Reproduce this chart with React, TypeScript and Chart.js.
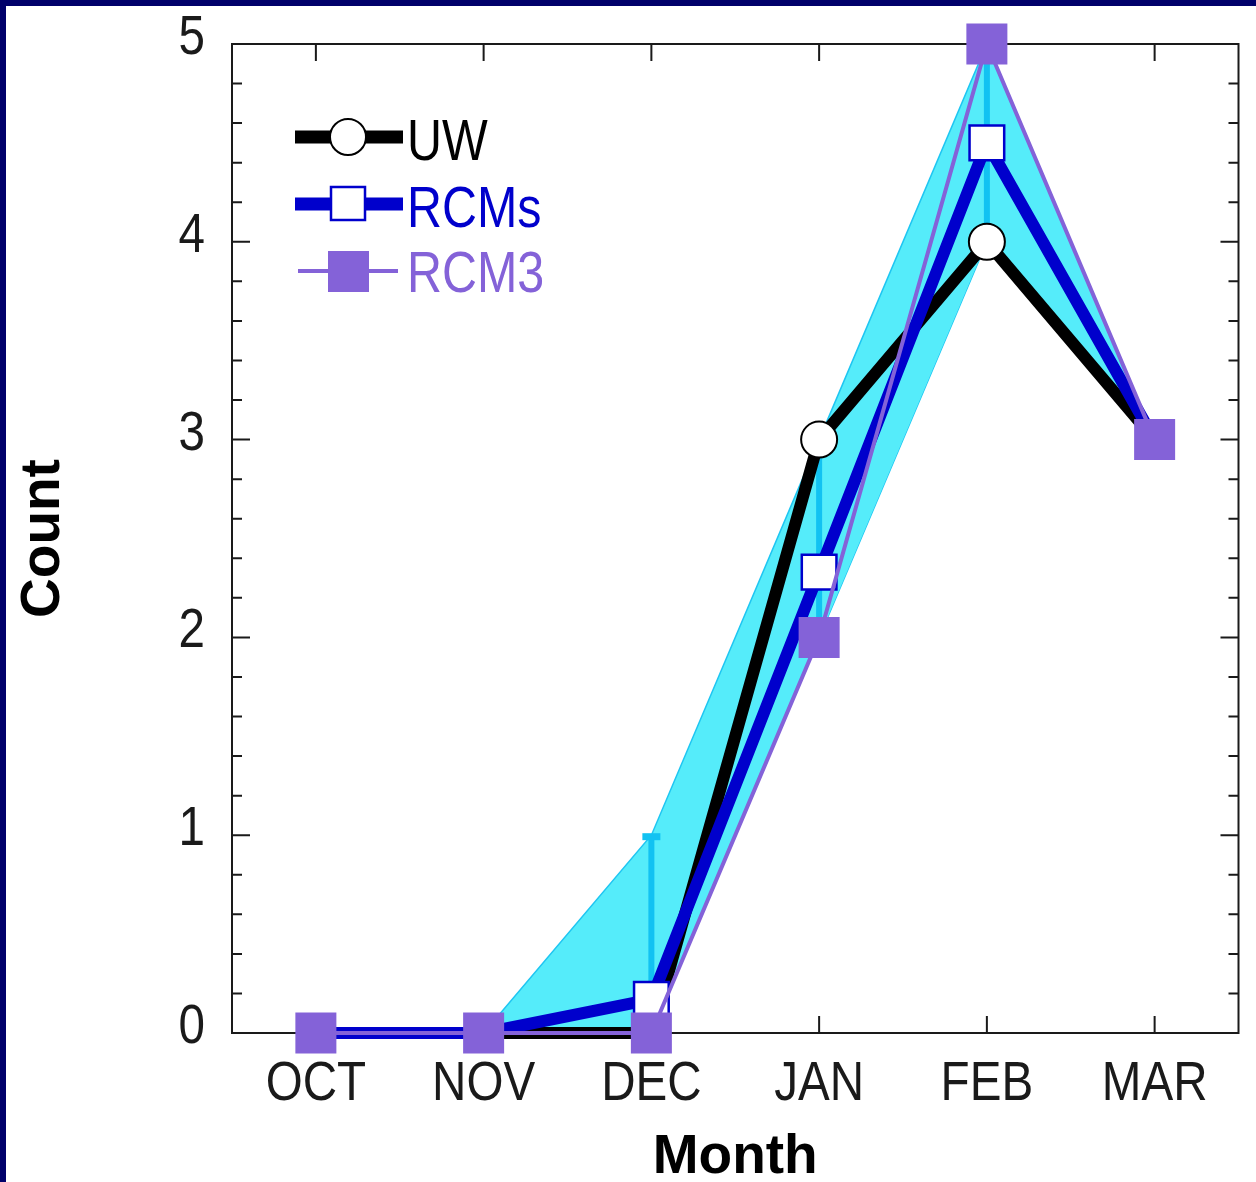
import { useEffect, useRef } from "react";
import { Chart, registerables } from "chart.js";

Chart.register(...registerables);

const months = ["OCT", "NOV", "DEC", "JAN", "FEB", "MAR"];
const uw = [0, 0, 0, 3, 4, 3];
const rcms = [0, 0, 0.17, 2.33, 4.5, 3];
const rcm3 = [0, 0, 0, 2, 5, 3];
const rcmMin = [0, 0, 0, 2, 4, 3];
const rcmMax = [0, 0, 1, 3, 5, 3];
const yTickValues = [0, 1, 2, 3, 4, 5];
const yTickLabels = ["0", "1", "2", "3", "4", "5"];

const NAVY = "#00006A";
const BLUE = "#0000CC";
const PURPLE = "#8462D8";
const CYAN_FILL = "#55ECFA";
const CYAN_LINE = "#1EC6F2";
const TEXT_FONT = "'Liberation Sans', Arial, sans-serif";
const SQUEEZE = 0.85;

const W = 1256;
const H = 1182;

function squeezedText(ctx: any, text: string, x: number, y: number, align: string, color: string, font: string) {
  ctx.save();
  ctx.font = font;
  ctx.fillStyle = color;
  ctx.textBaseline = "alphabetic";
  ctx.textAlign = align;
  ctx.translate(x, y);
  ctx.scale(SQUEEZE, 1);
  ctx.fillText(text, 0, 0);
  ctx.restore();
}

const chartPlugin = {
  id: "customFrame",
  beforeDraw(chart: any) {
    const { ctx, width, height } = chart;
    ctx.save();
    ctx.fillStyle = "#ffffff";
    ctx.fillRect(0, 0, width, height);
    ctx.fillStyle = NAVY;
    ctx.fillRect(0, 0, width, 6);
    ctx.fillRect(0, 0, 6, height);
    ctx.restore();
  },
  beforeDatasetsDraw(chart: any) {
    const { ctx, chartArea: a, scales } = chart;
    const x = scales.x;
    const y = scales.y;
    ctx.save();
    ctx.strokeStyle = "#1a1a1a";
    ctx.lineWidth = 2;
    ctx.strokeRect(a.left, a.top, a.right - a.left, a.bottom - a.top);
    ctx.beginPath();
    const yMax = yTickValues[yTickValues.length - 1];
    for (let i = 0; i <= yMax * 5; i++) {
      const py = y.getPixelForValue(i / 5);
      const len = i % 5 === 0 ? 18 : 10;
      ctx.moveTo(a.left, py);
      ctx.lineTo(a.left + len, py);
      ctx.moveTo(a.right, py);
      ctx.lineTo(a.right - len, py);
    }
    months.forEach((_m, i) => {
      const px = x.getPixelForValue(i);
      ctx.moveTo(px, a.top);
      ctx.lineTo(px, a.top + 17);
      ctx.moveTo(px, a.bottom);
      ctx.lineTo(px, a.bottom - 17);
    });
    ctx.stroke();
    ctx.restore();

    // tick labels
    const tickFont = `56px ${TEXT_FONT}`;
    months.forEach((m, i) => {
      squeezedText(ctx, m, x.getPixelForValue(i), a.bottom + 67, "center", "#1a1a1a", tickFont);
    });
    yTickValues.forEach((v, i) => {
      squeezedText(ctx, yTickLabels[i], a.left - 27, y.getPixelForValue(v) + 10, "right", "#1a1a1a", tickFont);
    });
  },
  afterDatasetDraw(chart: any, args: any) {
    if (args.index !== 0) return;
    const { ctx, scales } = chart;
    const x = scales.x;
    const y = scales.y;
    ctx.save();
    ctx.strokeStyle = "#12C2F2";
    ctx.lineWidth = 6;
    ctx.lineCap = "butt";
    months.forEach((_m, i) => {
      if (rcmMax[i] <= rcmMin[i]) return;
      const px = x.getPixelForValue(i);
      const top = y.getPixelForValue(rcmMax[i]);
      const bot = y.getPixelForValue(rcmMin[i]);
      ctx.beginPath();
      ctx.moveTo(px, bot);
      ctx.lineTo(px, top);
      ctx.stroke();
      ctx.fillStyle = "#12C2F2";
      ctx.fillRect(px - 9, top - 2, 18, 7);
    });
    ctx.restore();
  },
  afterDraw(chart: any) {
    const { ctx } = chart;
    const items = [
      { label: "UW", color: "#000000", width: 13, marker: "circle", y: 137, dy: 23 },
      { label: "RCMs", color: BLUE, width: 13, marker: "openRect", y: 204, dy: 23 },
      { label: "RCM3", color: PURPLE, width: 4, marker: "fillRect", y: 271, dy: 21 },
    ];
    ctx.save();
    items.forEach((it) => {
      ctx.strokeStyle = it.color;
      ctx.lineWidth = it.width;
      ctx.beginPath();
      ctx.moveTo(it.marker === "fillRect" ? 298 : 295, it.y);
      ctx.lineTo(it.marker === "fillRect" ? 398 : 403, it.y);
      ctx.stroke();
      if (it.marker === "circle") {
        ctx.beginPath();
        ctx.arc(348, it.y, 18, 0, Math.PI * 2);
        ctx.fillStyle = "#ffffff";
        ctx.fill();
        ctx.lineWidth = 2;
        ctx.strokeStyle = "#000";
        ctx.stroke();
      } else if (it.marker === "openRect") {
        ctx.fillStyle = "#ffffff";
        ctx.fillRect(331, it.y - 17, 34, 33);
        ctx.lineWidth = 2.5;
        ctx.strokeStyle = BLUE;
        ctx.strokeRect(331, it.y - 17, 34, 33);
      } else {
        ctx.fillStyle = PURPLE;
        ctx.fillRect(328, it.y - 20, 41, 41);
      }
      squeezedText(ctx, it.label, 407, it.y + it.dy, "left", it.color, `57px ${TEXT_FONT}`);
    });
    ctx.restore();
  },
};

export default function App() {
  const ref = useRef<HTMLCanvasElement | null>(null);
  useEffect(() => {
    if (!ref.current) return;
    const chart = new Chart(ref.current, {
      type: "line",
      data: {
        labels: months,
        datasets: [
          {
            label: "RCM max",
            data: rcmMax,
            borderColor: CYAN_LINE,
            borderWidth: 1.5,
            backgroundColor: CYAN_FILL,
            fill: 1,
            pointRadius: 0,
            order: 4,
            clip: false,
          } as any,
          {
            label: "RCM min",
            data: rcmMin,
            borderColor: CYAN_LINE,
            borderWidth: 1.5,
            fill: false,
            pointRadius: 0,
            order: 5,
            clip: false,
          },
          {
            label: "UW",
            data: uw,
            borderColor: "#000000",
            borderWidth: 12,
            borderJoinStyle: "round",
            pointStyle: "circle",
            pointRadius: 18,
            pointBackgroundColor: "#ffffff",
            pointBorderColor: "#000000",
            pointBorderWidth: 2,
            fill: false,
            order: 3,
            clip: false,
          },
          {
            label: "RCMs",
            data: rcms,
            borderColor: BLUE,
            borderWidth: 12,
            borderJoinStyle: "round",
            pointStyle: "rect",
            pointRadius: 24.5,
            pointBackgroundColor: "#ffffff",
            pointBorderColor: BLUE,
            pointBorderWidth: 2.5,
            fill: false,
            order: 2,
            clip: false,
          },
          {
            label: "RCM3",
            data: rcm3,
            borderColor: PURPLE,
            borderWidth: 4,
            pointStyle: "rect",
            pointRadius: 29,
            pointBackgroundColor: PURPLE,
            pointBorderColor: PURPLE,
            pointBorderWidth: 0,
            fill: false,
            order: 1,
            clip: false,
          },
        ],
      },
      options: {
        responsive: false,
        animation: false,
        events: [],
        layout: { autoPadding: false, padding: { top: 44, right: 17.5, left: 0, bottom: 0 } },
        plugins: {
          legend: { display: false },
          tooltip: { enabled: false },
        },
        scales: {
          x: {
            type: "category",
            offset: true,
            grid: { display: false, drawTicks: false },
            border: { display: false },
            ticks: { display: false },
            title: {
              display: true,
              text: "Month",
              color: "#000000",
              font: { family: TEXT_FONT, size: 55, weight: "bold" },
              padding: { top: 0, bottom: -9 },
            },
            afterFit: (s: any) => {
              s.height = 149;
              s.paddingLeft = 0;
              s.paddingRight = 0;
            },
          },
          y: {
            min: 0,
            max: 5,
            grid: { display: false, drawTicks: false },
            border: { display: false },
            ticks: { display: false, stepSize: 1 },
            title: {
              display: true,
              text: "Count",
              color: "#000000",
              font: { family: TEXT_FONT, size: 55, weight: "bold" },
              padding: { top: 11, bottom: 0 },
            },
            afterFit: (s: any) => {
              s.width = 232;
              s.paddingTop = 0;
              s.paddingBottom = 0;
            },
          },
        },
      },
      plugins: [chartPlugin],
    });
    return () => chart.destroy();
  }, []);
  return (
    <div style={{ position: "absolute", left: 0, top: 0, width: W, height: H }}>
      <canvas ref={ref} width={W} height={H} style={{ width: W, height: H, display: "block" }} />
    </div>
  );
}
